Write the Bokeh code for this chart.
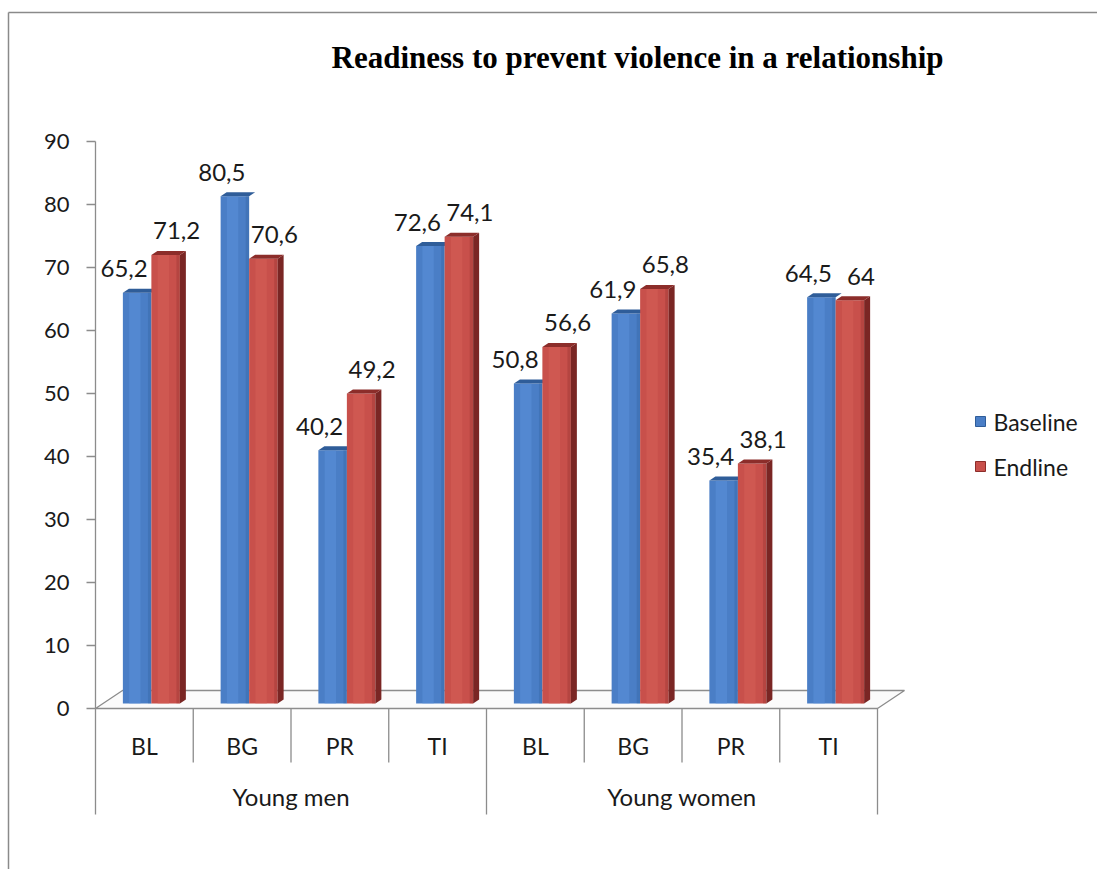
from bokeh.plotting import figure
from bokeh.models import Range1d, LinearAxis, FixedTicker, ColumnDataSource
from bokeh.core.properties import value
from bokeh.embed import file_html
from bokeh.resources import INLINE

# ---- data ----
groups = ["Young men", "Young women"]
sites = ["BL", "BG", "PR", "TI", "BL", "BG", "PR", "TI"]
series = ["Baseline", "Endline"]
baseline = [65.2, 80.5, 40.2, 72.6, 50.8, 61.9, 35.4, 64.5]
endline = [71.2, 70.6, 49.2, 74.1, 56.6, 65.8, 38.1, 64.0]
y_ticks = [0, 10, 20, 30, 40, 50, 60, 70, 80, 90]
title_text = "Readiness to prevent violence in a relationship"

# ---- canvas geometry (pixels) ----
W, H = 1097, 869
X0, UNIT = 95.0, 97.75      # left of category axis, px per category
Y0, PPU = 708.0, 6.3        # value 0 baseline, px per value unit


def dx(px):
    return px / UNIT


def dy(px):
    return px / PPU


def xd(px):
    return (px - X0) / UNIT


def yd(py):
    return (Y0 - py) / PPU


FONT = "Lato"
TEXT = "#1a1a1a"
BLUE = "#4a7ec6"
BLUE_LIGHT = "#5b91dc"
BLUE_DARK = "#2f5d99"
RED = "#c8504b"
RED_LIGHT = "#d65f58"
RED_DARK = "#8c2d2a"
RED_SIDE = "#7a2624"

p = figure(width=W, height=H, output_backend="svg", toolbar_location=None,
           x_range=Range1d(xd(0), xd(W)), y_range=Range1d(yd(H), yd(0)),
           x_axis_location=None, y_axis_location=None, min_border=0)
p.xgrid.visible = False
p.ygrid.visible = False
p.outline_line_color = None
p.background_fill_color = "white"
p.border_fill_color = "white"

# outer chart border (top and left)
p.segment(x0=[xd(8), xd(8)], y0=[yd(12), yd(12)], x1=[xd(W), xd(8)], y1=[yd(12), yd(H)],
          line_color="#8a8a8a", line_width=1.5)

n = len(sites)

# 3D floor
fx, fy = dx(27), dy(18)
p.patch(x=[0, n, n + fx, fx], y=[0, 0, fy, fy], fill_color="#fbfbfb",
        line_color="#8c8c8c", line_width=1.3)

# value axis
yaxis = LinearAxis(fixed_location=0, bounds=(0, 90), ticker=FixedTicker(ticks=y_ticks))
yaxis.axis_line_color = "#8c8c8c"
yaxis.axis_line_width = 1.3
yaxis.major_tick_line_color = "#8c8c8c"
yaxis.major_tick_line_width = 1.3
yaxis.major_tick_out = 9
yaxis.major_tick_in = 0
yaxis.minor_tick_line_color = None
yaxis.major_label_standoff = 17
yaxis.major_label_text_font = FONT
yaxis.major_label_text_font_size = "22px"
yaxis.major_label_text_color = TEXT
p.add_layout(yaxis, "left")

# category dividers
inner_len, group_len = dy(54), dy(106)
div_x = list(range(n + 1))
div_bottom = [-group_len if k % 4 == 0 else -inner_len for k in div_x]
p.segment(x0=div_x, y0=[0] * len(div_x), x1=div_x, y1=div_bottom,
          line_color="#8c8c8c", line_width=1.3)

# category and group labels
p.text(x=[i + 0.5 for i in range(n)], y=[-dy(37)] * n, text=sites,
       text_align="center", text_baseline="middle", text_font=value(FONT),
       text_font_size="23px", text_color=TEXT)
p.text(x=[2, 6], y=[-dy(88)] * 2, text=groups,
       text_align="center", text_baseline="middle", text_font=value(FONT),
       text_font_size="24px", text_color=TEXT)

# bars (front face shifted into the floor depth)
sx, sy = dx(7), dy(5)
bw = dx(28.5)
ddx, ddy = dx(6), dy(4)


def bar_parts(vals, offset):
    left = [i + 0.5 + offset + sx for i in range(n)]
    right = [l + bw for l in left]
    top = [v + sy for v in vals]
    bottom = [sy] * n
    return left, right, top, bottom


def draw_series(vals, offset, base, light, dark, side):
    left, right, top, bottom = bar_parts(vals, offset)
    p.quad(left=left, right=right, top=top, bottom=bottom, fill_color=base, line_color=None)
    p.quad(left=[l + bw * 0.22 for l in left], right=[l + bw * 0.62 for l in left],
           top=top, bottom=bottom, fill_color=light, fill_alpha=0.5, line_color=None)
    p.quad(left=[r - bw * 0.12 for r in right], right=right, top=top, bottom=bottom,
           fill_color=dark, fill_alpha=0.3, line_color=None)
    if side is not None:
        p.patches(xs=[[r, r + ddx, r + ddx, r] for r in right],
                  ys=[[b, b + ddy, t + ddy, t] for b, t in zip(bottom, top)],
                  fill_color=side, line_color=None)
    p.patches(xs=[[l, r, r + ddx, l + ddx] for l, r in zip(left, right)],
              ys=[[t, t, t + ddy, t + ddy] for t in top],
              fill_color=dark, line_color=None)
    return left, top


bl, bt = draw_series(baseline, -bw, BLUE, BLUE_LIGHT, BLUE_DARK, None)
rl, rt = draw_series(endline, 0, RED, RED_LIGHT, RED_DARK, RED_SIDE)


def fmt(v):
    return f"{v:g}".replace(".", ",")


lab_b = ColumnDataSource(dict(x=[l + bw / 2 for l in bl], y=bt, t=[fmt(v) for v in baseline]))
lab_e = ColumnDataSource(dict(x=[l + bw / 2 for l in rl], y=rt, t=[fmt(v) for v in endline]))
for src, xo in ((lab_b, -13), (lab_e, 11)):
    p.text(x="x", y="y", text="t", source=src, x_offset=xo, y_offset=-24,
           text_align="center", text_baseline="middle", text_font=value(FONT),
           text_font_size="24px", text_color=TEXT)

# legend
p.scatter(x=[xd(980)] * 2, y=[yd(421), yd(466)], marker="square", size=10,
          fill_color=[BLUE, RED], line_color=[BLUE_DARK, RED_DARK])
p.text(x=[xd(993)] * 2, y=[yd(421), yd(466)], text=series, text_align="left",
       text_baseline="middle", text_font=value(FONT), text_font_size="23px",
       text_color=TEXT)

# title
p.text(x=[xd(637)], y=[yd(57)], text=[title_text], text_align="center",
       text_baseline="middle", text_font=value("Liberation Serif"),
       text_font_style="bold", text_font_size="31px", text_color="black")

open("out.html", "w").write(file_html(p, INLINE))
